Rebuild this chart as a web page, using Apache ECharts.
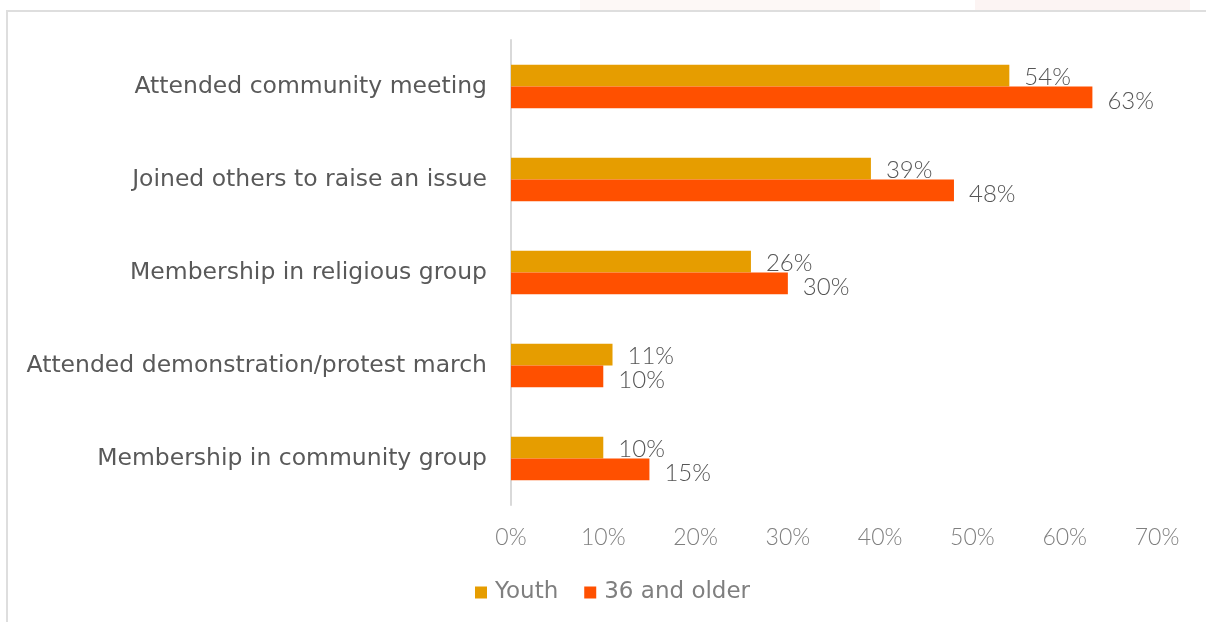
<!DOCTYPE html>
<html>
<head>
<meta charset="utf-8">
<title>Civic participation by age group</title>
<script src="https://cdn.jsdelivr.net/npm/echarts@6/dist/echarts.min.js"></script>
<style>
  html, body { margin: 0; padding: 0; background: #ffffff; }
  #chart { width: 1206px; height: 622px; }
</style>
</head>
<body>
<div id="chart"></div>
<script>
// Activities, listed top to bottom
const categories = [
  'Attended community meeting',
  'Joined others to raise an issue',
  'Membership in religious group',
  'Attended demonstration/protest march',
  'Membership in community group'
];

// Share of respondents (%) per activity
const youthValues = [54, 39, 26, 11, 10];
const olderValues = [63, 48, 30, 10, 15];

const seriesNames = ['Youth', '36 and older'];

// Percentage axis ticks
const axisMin = 0;
const axisMax = 70;
const axisStep = 10;

const labelFont = '"DejaVu Sans", "Noto Sans", sans-serif';
const numberFont = 'Lato, "Open Sans", sans-serif';

const chart = echarts.init(document.getElementById('chart'), null, { renderer: 'canvas' });

const valueLabel = {
  show: true,
  position: 'right',
  distance: 15,
  formatter: p => p.value + '%',
  color: '#555555',
  fontFamily: numberFont,
  fontWeight: 300,
  fontSize: 24
};

chart.setOption({
  animation: false,
  backgroundColor: '#ffffff',
  graphic: [
    // faint header band above the frame
    {
      type: 'rect', silent: true, z: -10,
      shape: { x: 580, y: 0, width: 300, height: 10 },
      style: { fill: '#fdf8f6' }
    },
    {
      type: 'rect', silent: true, z: -10,
      shape: { x: 975, y: 0, width: 215, height: 10 },
      style: { fill: '#fcf4f3' }
    },
    // outer frame
    {
      type: 'rect',
      silent: true,
      shape: { x: 7, y: 11, width: 1220, height: 640 },
      style: { fill: 'none', stroke: '#dedede', lineWidth: 2 }
    }
  ],
  grid: {
    left: 511,
    right: 49,
    top: 40,
    bottom: 117,
    containLabel: false
  },
  legend: {
    data: seriesNames,
    left: 470,
    top: 576,
    icon: 'rect',
    itemWidth: 12,
    itemHeight: 12,
    itemGap: 26,
    textStyle: {
      color: '#7f7f7f',
      fontFamily: labelFont,
      fontSize: 23,
      padding: [0, 0, 0, 3]
    }
  },
  xAxis: {
    type: 'value',
    min: axisMin,
    max: axisMax,
    interval: axisStep,
    axisLine: { show: false },
    axisTick: { show: false },
    splitLine: { show: false },
    axisLabel: {
      formatter: v => v + '%',
      color: '#7f7f7f',
      fontFamily: numberFont,
      fontWeight: 300,
      fontSize: 23,
      margin: 21
    }
  },
  yAxis: {
    type: 'category',
    data: categories,
    inverse: true,
    axisLine: { show: true, lineStyle: { color: '#d9d9d9', width: 2 } },
    axisTick: { show: false },
    axisLabel: {
      color: '#595959',
      fontFamily: labelFont,
      fontSize: 23.5,
      margin: 24,
      padding: [12, 0, 0, 0]
    }
  },
  series: [
    {
      name: seriesNames[0],
      type: 'bar',
      data: youthValues,
      barGap: '0%',
      barCategoryGap: '53%',
      itemStyle: { color: '#E69D00' },
      label: Object.assign({}, valueLabel, { offset: [0, 2] })
    },
    {
      name: seriesNames[1],
      type: 'bar',
      data: olderValues,
      barGap: '0%',
      barCategoryGap: '53%',
      itemStyle: { color: '#FF5000' },
      label: Object.assign({}, valueLabel, { offset: [0, 4] })
    }
  ]
});
</script>
</body>
</html>
